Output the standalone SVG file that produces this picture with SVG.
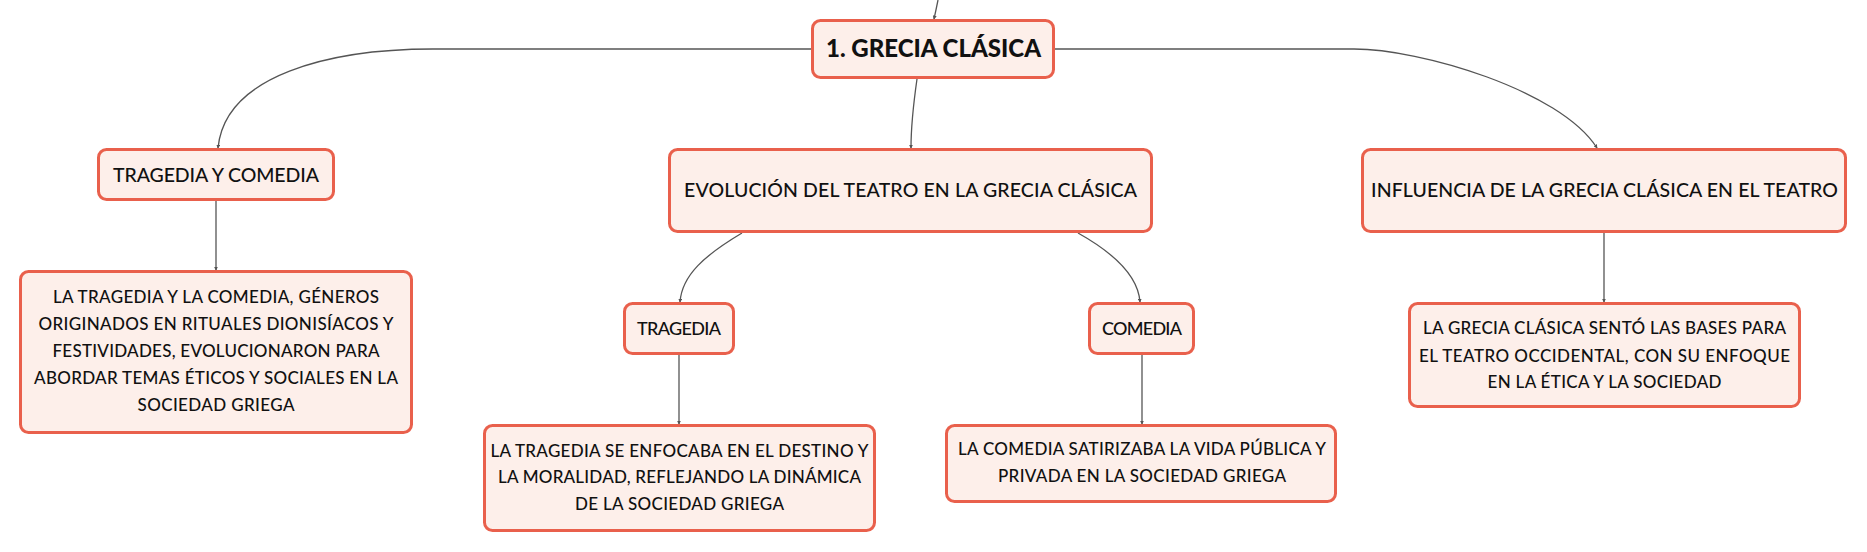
<svg xmlns="http://www.w3.org/2000/svg" width="1867" height="552" viewBox="0 0 1867 552">
<style>
.box{fill:#fdefea;stroke:#e9604c;stroke-width:3}
.t{font-family:Lato,"Noto Sans","DejaVu Sans",sans-serif;fill:#111;text-anchor:middle;font-weight:500}
.h{font-size:19.5px}
.s{font-size:17px}
.m{font-size:18px}
.r{font-size:24.5px;font-weight:900}
.c{fill:none;stroke:#555;stroke-width:1.3}
</style>
<defs>
<marker id="ah" viewBox="0 0 6 6" refX="5" refY="3" markerWidth="4" markerHeight="4" orient="auto" markerUnits="userSpaceOnUse">
<path d="M0,0 L6,3 L0,6 z" fill="#555"/>
</marker>
</defs>
<rect width="1867" height="552" fill="#ffffff"/>
<g id="connectors">
<path class="c" d="M938 0 Q936 10 934 19" marker-end="url(#ah)"/>
<path class="c" d="M917 79 C914 100 911 125 911 148" marker-end="url(#ah)"/>
<path class="c" d="M811 49 L433 49 C330 49 225 75 218 148" marker-end="url(#ah)"/>
<path class="c" d="M1055 49 L1354 49 C1420 49 1560 90 1597 148" marker-end="url(#ah)"/>
<path class="c" d="M742 233 C705 255 682 275 680 302" marker-end="url(#ah)"/>
<path class="c" d="M1078 233 C1112 252 1138 275 1140 302" marker-end="url(#ah)"/>
<path class="c" d="M216 201 L216 270" marker-end="url(#ah)"/>
<path class="c" d="M679 355 L679 424" marker-end="url(#ah)"/>
<path class="c" d="M1142 355 L1142 424" marker-end="url(#ah)"/>
<path class="c" d="M1604 233 L1604 302" marker-end="url(#ah)"/>
</g>
<g id="root">
<rect class="box" x="812.5" y="20.5" width="241" height="57" rx="8"/>
<text class="t r" x="933.5" y="57" textLength="215" lengthAdjust="spacingAndGlyphs">1. GRECIA CLÁSICA</text>
</g>
<g id="tragedia-y-comedia">
<rect class="box" x="98.5" y="149.5" width="235" height="50" rx="8"/>
<text class="t h" x="216" y="182" textLength="206">TRAGEDIA Y COMEDIA</text>
</g>
<g id="tyc-desc">
<rect class="box" x="20.5" y="271.5" width="391" height="161" rx="8"/>
<text class="t s" x="216" y="303" textLength="326">LA TRAGEDIA Y LA COMEDIA, GÉNEROS</text>
<text class="t s" x="216" y="330" textLength="355">ORIGINADOS EN RITUALES DIONISÍACOS Y</text>
<text class="t s" x="216" y="357" textLength="327">FESTIVIDADES, EVOLUCIONARON PARA</text>
<text class="t s" x="216" y="384" textLength="364">ABORDAR TEMAS ÉTICOS Y SOCIALES EN LA</text>
<text class="t s" x="216" y="411" textLength="157">SOCIEDAD GRIEGA</text>
</g>
<g id="evolucion">
<rect class="box" x="669.5" y="149.5" width="482" height="82" rx="8"/>
<text class="t h" x="910.5" y="197" textLength="453">EVOLUCIÓN DEL TEATRO EN LA GRECIA CLÁSICA</text>
</g>
<g id="influencia">
<rect class="box" x="1362.5" y="149.5" width="483" height="82" rx="8"/>
<text class="t h" x="1604.5" y="197" textLength="467">INFLUENCIA DE LA GRECIA CLÁSICA EN EL TEATRO</text>
</g>
<g id="influencia-desc">
<rect class="box" x="1409.5" y="303.5" width="390" height="103" rx="8"/>
<text class="t s" x="1604.5" y="334" textLength="363">LA GRECIA CLÁSICA SENTÓ LAS BASES PARA</text>
<text class="t s" x="1604.5" y="362" textLength="371">EL TEATRO OCCIDENTAL, CON SU ENFOQUE</text>
<text class="t s" x="1604.5" y="388" textLength="234">EN LA ÉTICA Y LA SOCIEDAD</text>
</g>
<g id="tragedia">
<rect class="box" x="624.5" y="303.5" width="109" height="50" rx="8"/>
<text class="t m" x="679" y="335" textLength="84">TRAGEDIA</text>
</g>
<g id="tragedia-desc">
<rect class="box" x="484.5" y="425.5" width="390" height="105" rx="8"/>
<text class="t s" x="679.5" y="457" textLength="378">LA TRAGEDIA SE ENFOCABA EN EL DESTINO Y</text>
<text class="t s" x="679.5" y="483" textLength="363">LA MORALIDAD, REFLEJANDO LA DINÁMICA</text>
<text class="t s" x="679.5" y="510" textLength="209">DE LA SOCIEDAD GRIEGA</text>
</g>
<g id="comedia">
<rect class="box" x="1089.5" y="303.5" width="104" height="50" rx="8"/>
<text class="t m" x="1142" y="335" textLength="80">COMEDIA</text>
</g>
<g id="comedia-desc">
<rect class="box" x="946.5" y="425.5" width="389" height="76" rx="8"/>
<text class="t s" x="1142" y="455" textLength="368">LA COMEDIA SATIRIZABA LA VIDA PÚBLICA Y</text>
<text class="t s" x="1142" y="482" textLength="288">PRIVADA EN LA SOCIEDAD GRIEGA</text>
</g>
</svg>
